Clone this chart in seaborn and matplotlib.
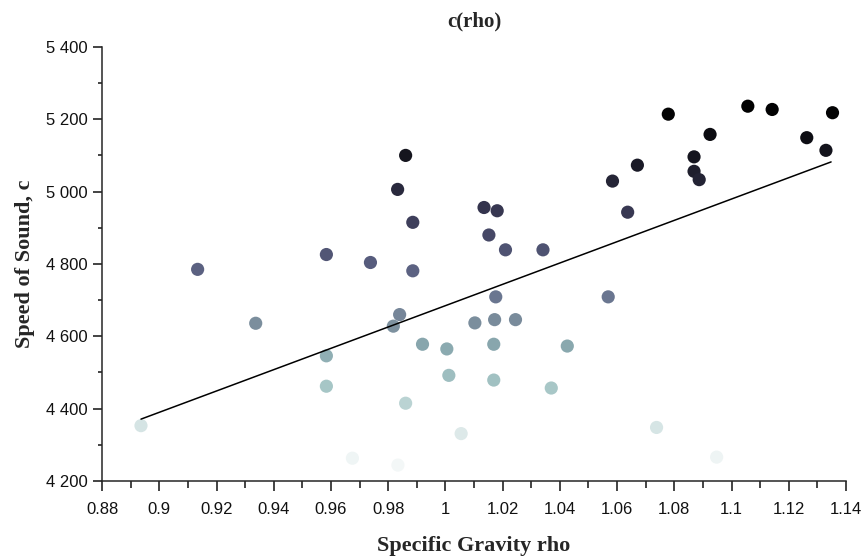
import numpy as np
import pandas as pd
import matplotlib
matplotlib.use("Agg")
import matplotlib.pyplot as plt
import matplotlib.ticker as mticker
from matplotlib.colors import LinearSegmentedColormap
import seaborn as sns

# ---------------------------------------------------------------------------
# Data
# ---------------------------------------------------------------------------

rho = [0.8936, 0.9134, 0.9337, 0.9584, 0.9584, 0.9584, 0.9675, 0.9738,
       0.9818, 0.9833, 0.9834, 0.9840, 0.9861, 0.9861, 0.9886, 0.9886,
       0.9920, 1.0005, 1.0012, 1.0055, 1.0103, 1.0135, 1.0152, 1.0169,
       1.0169, 1.0172, 1.0176, 1.0181, 1.0210, 1.0245, 1.0341, 1.0370,
       1.0426, 1.0569, 1.0584, 1.0637, 1.0671, 1.0738, 1.0779, 1.0869,
       1.0869, 1.0887, 1.0925, 1.0948, 1.1057, 1.1142, 1.1263, 1.1330,
       1.1353]
speed = [4353, 4785, 4636, 4826, 4546, 4462, 4263, 4804,
         4628, 5006, 4244, 4660, 5100, 4415, 4915, 4781,
         4578, 4565, 4492, 4331, 4637, 4956, 4880, 4578,
         4479, 4646, 4709, 4947, 4839, 4646, 4839, 4457,
         4573, 4709, 5029, 4943, 5073, 4348, 5214, 5096,
         5056, 5033, 5158, 4266, 5236, 5227, 5149, 5114,
         5218]

# trend line end points
fit_rho = [0.8936, 1.1348]
fit_c = [4371, 5082]

df = pd.DataFrame({"rho": rho, "c": speed})

# colour ramp: speed value -> shade
shade_vals = [4240, 4330, 4460, 4570, 4640, 4710, 4800, 4950, 5100, 5240]
shade_cols = ["#f4f8f8", "#dde9e9", "#a6c6c6", "#8aa9af", "#7a8c9c",
              "#6a7690", "#585d7e", "#363650", "#15151f", "#000000"]

# ---------------------------------------------------------------------------
# Style
# ---------------------------------------------------------------------------

sns.set_theme(style="ticks")
plt.rcParams.update({
    "font.family": ["Liberation Sans", "DejaVu Sans"],
    "axes.linewidth": 1.1,
    "xtick.color": "#111111",
    "ytick.color": "#111111",
})

lo, hi = shade_vals[0], shade_vals[-1]
cmap = LinearSegmentedColormap.from_list(
    "c_shade", [((v - lo) / (hi - lo), c) for v, c in zip(shade_vals, shade_cols)]
)

fig, ax = plt.subplots(figsize=(8.65, 5.58), dpi=100)
fig.subplots_adjust(left=0.118, right=0.978, bottom=0.138, top=0.916)

sns.scatterplot(data=df, x="rho", y="c", hue="c", palette=cmap,
                hue_norm=(lo, hi), s=90, linewidth=0, legend=False,
                ax=ax, zorder=3)
sns.lineplot(x=fit_rho, y=fit_c, color="black", linewidth=1.1, ax=ax, zorder=4)

ax.set_xlim(0.88, 1.14)
ax.set_ylim(4200, 5400)
ax.xaxis.set_major_locator(mticker.MultipleLocator(0.02))
ax.xaxis.set_minor_locator(mticker.MultipleLocator(0.01))
ax.yaxis.set_major_locator(mticker.MultipleLocator(200))
ax.yaxis.set_minor_locator(mticker.MultipleLocator(100))
ax.xaxis.set_major_formatter(mticker.FuncFormatter(lambda v, _: f"{v:.2f}".rstrip("0").rstrip(".")))
ax.yaxis.set_major_formatter(mticker.FuncFormatter(lambda v, _: f"{v:,.0f}".replace(",", " ")))

ax.tick_params(axis="x", which="major", length=7, width=1.1, labelsize=12, pad=8)
ax.tick_params(axis="x", which="minor", length=5, width=1.1)
ax.tick_params(axis="y", which="major", length=6.5, width=1.1, labelsize=12, pad=4)
ax.tick_params(axis="y", which="minor", length=3, width=1.1)
sns.despine(ax=ax)

serif = ["Liberation Serif", "DejaVu Serif"]
ax.set_title("c(rho)", fontsize=15, fontweight="bold", family=serif, pad=15)
ax.set_xlabel("Specific Gravity rho", fontsize=16, fontweight="bold", family=serif, labelpad=14)
ax.set_ylabel("Speed of Sound, c", fontsize=16, fontweight="bold", family=serif, labelpad=8)

fig.savefig("out.png", dpi=100)
